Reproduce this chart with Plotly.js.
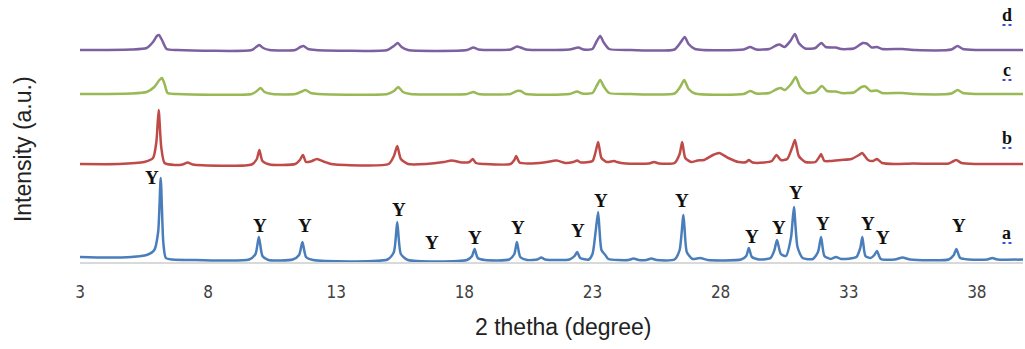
<!DOCTYPE html>
<html>
<head>
<meta charset="utf-8">
<script src="https://cdn.plot.ly/plotly-3.0.1.min.js"></script>
<style>html,body{margin:0;padding:0;background:#fff;}#chart{width:1025px;height:349px;}</style>
</head>
<body>
<div id="chart"></div>
<script>
// ---- data (2θ in degrees, intensity in a.u., patterns stacked) ----
const aX = [3,4,5,5.6,5.9,6.05,6.15,6.25,6.35,6.6,7.5,9.6,9.85,9.98,10.12,10.35,11.3,11.55,11.68,11.82,12.1,15.0,15.25,15.38,15.52,15.8,18.1,18.3,18.4,18.52,18.8,19.75,19.95,20.05,20.18,20.45,20.85,21.0,21.15,22.1,22.3,22.4,22.52,22.85,23.0,23.12,23.22,23.35,23.5,23.62,24.4,24.6,24.8,25.1,25.3,25.5,26.2,26.4,26.55,26.68,26.9,27.2,27.5,28.8,29.0,29.1,29.22,29.5,29.95,30.1,30.2,30.35,30.55,30.75,30.86,31.0,31.2,31.6,31.8,31.92,32.05,32.3,32.5,32.7,33.3,33.45,33.53,33.65,33.85,34.0,34.1,34.25,34.8,35.1,35.4,36.9,37.1,37.2,37.35,37.7,38.4,38.6,38.8,39.8];
const aY = [5,4.5,5,7,12,30,84,20,4,2.5,2,2.5,8,25,6,2,2.5,7,20,5,2,2.5,10,40,8,2,2,6,13,4,2,2.5,8,20,5,2,2.5,4.5,2.5,2.5,6,10,4,2.5,8,30,50,12,7,3,2,3.5,2,2,3.5,2,2.5,12,47,10,3,4,2,2.5,6,14,5,2.5,4,12,22,8,6,25,55,15,4,3,10,25,6,3,5,3,5,14,25,6,4,7,11,3,2.5,4.5,2.5,2.5,7,13,4,2.5,2.5,4,2.5,2.5];

const bX = [3,4.5,5.5,5.85,5.98,6.07,6.17,6.3,6.7,7.0,7.2,7.4,9.7,9.9,10.0,10.12,10.4,11.4,11.58,11.7,11.82,12.0,12.25,12.5,12.8,15.05,15.25,15.38,15.52,15.8,16.5,17.2,17.5,17.9,18.2,18.33,18.45,18.8,19.8,19.95,20.02,20.15,20.5,21.1,21.6,21.95,22.25,22.4,22.55,23.0,23.12,23.22,23.35,23.55,23.85,23.95,24.3,25.2,25.4,25.6,26.2,26.4,26.5,26.62,26.85,27.1,27.35,27.7,27.95,28.3,28.7,29.0,29.1,29.25,29.7,30.0,30.18,30.35,30.6,30.8,30.9,31.05,31.3,31.7,31.85,31.92,32.05,32.3,32.7,33.1,33.4,33.52,33.75,33.95,34.1,34.3,34.8,35.5,36.9,37.1,37.2,37.4,38.0,39.8];
const bY = [98,98,100,104,120,152,115,99,97,97.5,99.5,97.5,97.5,103,112,101,97.5,98,102,107,100,100.5,103,100.5,98,98,106,116,103,98,98,100,101.5,99.5,100,103,99,98,98,102,106,99.5,98.5,99.5,101.5,99,100,101.5,99.5,101,110,120,104,100,101,100,98.5,98.5,100,98.5,99,108,120,104,100,101.5,102,107,109,104,100,100,102,99.5,99.5,101,107,102,103,115,122,106,100,100,105,108,101,101,102,103,107,109,102,101,103,99,98,98.5,98.5,101,102,99,98,98];

const cX = [3,5.0,5.6,5.9,6.1,6.2,6.3,6.42,6.8,9.7,9.9,10.05,10.2,10.5,11.4,11.65,11.8,12.0,12.3,15.0,15.25,15.42,15.6,15.9,18.1,18.35,18.55,19.8,20.05,20.2,20.4,22.1,22.4,22.6,23.0,23.18,23.3,23.45,23.65,24.5,26.2,26.42,26.58,26.75,27.0,28.9,29.15,29.4,29.9,30.2,30.35,30.5,30.75,30.93,31.1,31.35,31.7,31.95,32.15,32.5,32.7,33.2,33.5,33.65,33.85,34.1,34.3,35.1,35.6,37.0,37.25,37.45,38.0,39.8];
const cY = [168,168.5,170,175,182,184,178,169,168,168,171,174,170,168,168,170.5,172,169,168,168,171,175,170,168,168,170,168,168,171,171,168,168,170.5,168.5,169,177,182,175,169,168,168.5,175,182,173,168.5,168,171,168.5,169,173,174,172,178,185,175,169,170,176,171,170.5,169,169.5,175,175.5,171,171.5,169,169,168,168.5,172,169,168,168];

const dX = [3,5.0,5.6,5.85,6.0,6.08,6.2,6.38,6.8,9.7,9.9,10.0,10.15,10.4,11.4,11.6,11.72,11.9,12.2,15.0,15.25,15.4,15.55,15.8,18.1,18.35,18.55,19.8,20.05,20.2,20.4,22.1,22.45,22.65,23.0,23.15,23.3,23.45,23.65,24.5,26.2,26.45,26.6,26.75,27.0,28.9,29.15,29.4,29.9,30.2,30.3,30.5,30.72,30.9,31.05,31.3,31.7,31.93,32.1,32.5,32.7,33.2,33.55,33.7,33.9,34.1,34.3,35.1,35.6,37.0,37.25,37.45,38.0,39.8];
const dY = [212,212.5,214,220,226,227,222,213,212,212,215.5,217,214,212,212,215,216,213,212,212,216,219,215,212,212,214.5,212.5,212.5,215.5,214.5,212.5,212.5,214.5,212.5,213,220,226,219,213,212,212.5,220,225,218,213,212.5,215,212.5,213,217,217.5,215,221,228,219,213.5,214,219,215,214.5,213,213.5,219,218.5,214.5,215,213,213,212,212.5,216,213,212,212];

// marked "Y" reflections of pattern a (2θ) and the height of their labels (a.u.)
const markX = [5.81,10.02,11.78,15.45,16.73,18.41,20.09,22.43,23.33,26.49,29.22,30.27,30.94,31.99,33.75,34.33,37.30];
const markY = [85,37,37,53,20,25,35,32,62,62,26,35,70,39,39,25,37];
const markText = 'Y';

// sample labels and the baseline level of each pattern label
const sampleNames = ['a','b','c','d'];
const sampleLabelY = [29,124,192,247];

const xTicks = [3,8,13,18,23,28,33,38];
const xTitle = '2 thetha (degree)';
const yTitle = 'Intensity (a.u.)';

// ---- chart ----
const colors = ['#4a7ebb','#be4b48','#98b954','#7d60a0'];
const series = [[aX,aY],[bX,bY],[cX,cY],[dX,dY]];
const traces = series.map((s,i)=>({
  x: s[0], y: s[1], type:'scatter', mode:'lines', name: sampleNames[i],
  line:{color:colors[i], width:2.5, shape:'spline', smoothing:0.6}, hoverinfo:'x+y'
}));

const annotations = [];
markX.forEach((x,i)=>annotations.push({
  x:x, y:markY[i], xref:'x', yref:'y', text:'<b>'+markText+'</b>', showarrow:false,
  font:{family:'Liberation Serif, Times New Roman, serif', size:19, color:'#111'},
  xanchor:'center', yanchor:'middle'
}));
sampleNames.forEach((n,i)=>annotations.push({
  x:39.17, y:sampleLabelY[i], xref:'x', yref:'y', text:'<b>'+n+'</b>', showarrow:false,
  font:{family:'Liberation Serif, Times New Roman, serif', size:18, color:'#111'},
  xanchor:'center', yanchor:'middle'
}));
annotations.push({
  x:0.5118, y:-0.248, xref:'paper', yref:'paper', text:xTitle, showarrow:false,
  font:{family:'Liberation Sans, Arial, sans-serif', size:23, color:'#222'},
  xanchor:'center', yanchor:'middle'
});
annotations.push({
  x:-0.0604, y:0.431, xref:'paper', yref:'paper', text:yTitle, showarrow:false, textangle:-90,
  font:{family:'Liberation Sans, Arial, sans-serif', size:23, color:'#222'},
  xanchor:'center', yanchor:'middle'
});

const shapes = sampleNames.map((n,i)=>({
  type:'line', xref:'x', yref:'y', x0:39.0, x1:39.35, y0:sampleLabelY[i]-10, y1:sampleLabelY[i]-10,
  line:{color:'#3a4fd0', width:2, dash:'dot'}
}));

const layout = {
  width:1025, height:349,
  margin:{l:80, r:2, t:0, b:87},
  paper_bgcolor:'#fff', plot_bgcolor:'#fff',
  showlegend:false,
  xaxis:{
    range:[3,39.8], tickvals:xTicks, ticktext:xTicks.map(String),
    showgrid:false, zeroline:false, showline:true, linecolor:'#d9d9d9', linewidth:2,
    ticks:'', ticklabelstandoff:14,
    tickfont:{family:'Liberation Sans Narrow, DejaVu Sans Condensed, sans-serif', size:17, color:'#404040'}
  },
  yaxis:{
    range:[0,262], showgrid:false, zeroline:false, showline:false, showticklabels:false, ticks:''
  },
  annotations: annotations,
  shapes: shapes
};

Plotly.newPlot('chart', traces, layout, {displayModeBar:false, staticPlot:true});
</script>
</body>
</html>
